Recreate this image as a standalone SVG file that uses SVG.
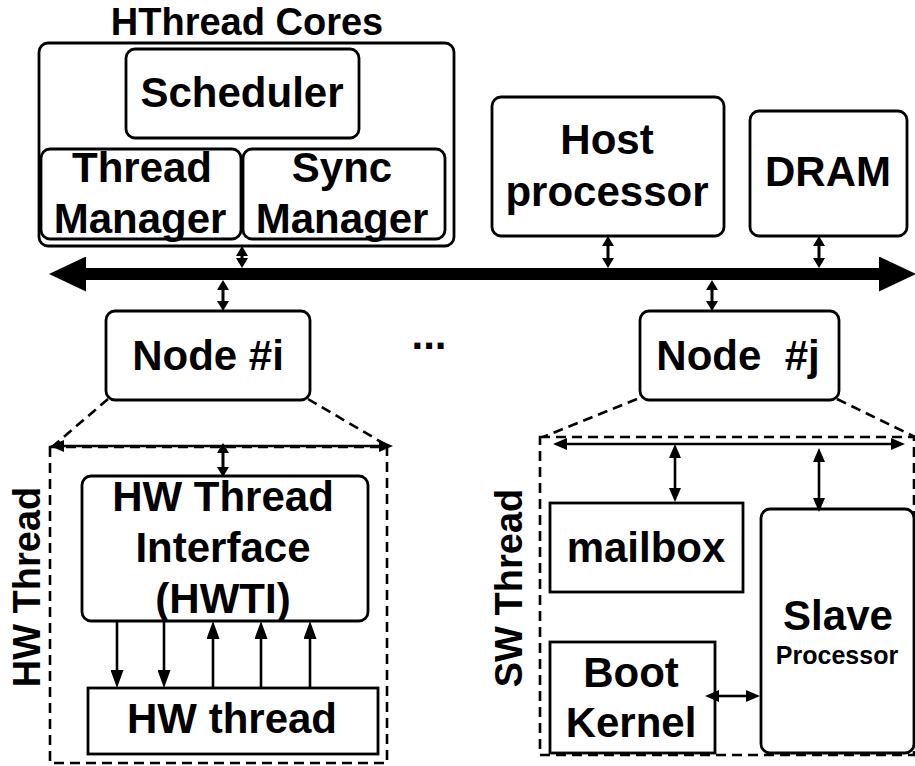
<svg xmlns="http://www.w3.org/2000/svg" width="915" height="766" viewBox="0 0 915 766">
<style>
  .box{fill:#fff;stroke:#000;stroke-width:2.8}
  .dash{fill:none;stroke:#000;stroke-width:2.6;stroke-dasharray:10 6}
  .t{font-family:"Liberation Sans",Arial,sans-serif;font-weight:bold;font-size:42px;fill:#000;text-anchor:middle}
  .sm{stroke:#000;stroke-width:3;fill:none;marker-start:url(#hs);marker-end:url(#hs)}
  .md{stroke:#000;stroke-width:2.6;fill:none;marker-start:url(#hm);marker-end:url(#hm)}
  .one{stroke:#000;stroke-width:2.6;fill:none;marker-end:url(#hl)}
</style>
<defs>
  <marker id="hb" viewBox="0 0 37 35" refX="0" refY="17.5" markerWidth="37" markerHeight="35" orient="auto-start-reverse" markerUnits="userSpaceOnUse"><path d="M0,0 L37,17.5 L0,35 z"/></marker>
  <marker id="hs" viewBox="0 0 10 12" refX="0" refY="6" markerWidth="10" markerHeight="12" orient="auto-start-reverse" markerUnits="userSpaceOnUse"><path d="M0,0 L10,6 L0,12 z"/></marker>
  <marker id="hm" viewBox="0 0 14 12" refX="0" refY="6" markerWidth="14" markerHeight="12" orient="auto-start-reverse" markerUnits="userSpaceOnUse"><path d="M0,0 L14,6 L0,12 z"/></marker>
  <marker id="hl" viewBox="0 0 18 13" refX="0" refY="6.5" markerWidth="18" markerHeight="13" orient="auto" markerUnits="userSpaceOnUse"><path d="M0,0 L18,6.5 L0,13 z"/></marker>
</defs>

<g id="hthread-cores">
  <text class="t" x="247" y="35" style="font-size:38px">HThread Cores</text>
  <rect class="box" x="39" y="43" width="415" height="203" rx="9"/>
</g>
<g id="scheduler">
  <rect class="box" x="126" y="49" width="233" height="89" rx="9"/>
  <text class="t" x="242" y="107">Scheduler</text>
</g>
<g id="thread-manager">
  <rect class="box" x="41" y="149" width="200" height="90" rx="9"/>
  <text class="t" x="142" y="182">Thread</text>
  <text class="t" x="140" y="233">Manager</text>
</g>
<g id="sync-manager">
  <rect class="box" x="243" y="149" width="202" height="90" rx="9"/>
  <text class="t" x="342" y="182">Sync</text>
  <text class="t" x="342" y="233">Manager</text>
</g>
<g id="host">
  <rect class="box" x="492" y="97" width="232" height="139" rx="9"/>
  <text class="t" x="607" y="154">Host</text>
  <text class="t" x="607" y="206">processor</text>
</g>
<g id="dram">
  <rect class="box" x="750" y="111" width="157" height="125" rx="9"/>
  <text class="t" x="828" y="186">DRAM</text>
</g>
<g id="node-i">
  <rect class="box" x="106" y="311" width="204" height="89" rx="9"/>
  <text class="t" x="208" y="370">Node #i</text>
</g>
<g id="ellipsis">
  <text class="t" x="429" y="349">...</text>
</g>
<g id="node-j">
  <rect class="box" x="640" y="311" width="199" height="89" rx="9"/>
  <text class="t" x="738" y="370" xml:space="preserve" style="white-space:pre">Node  #j</text>
</g>

<g id="hw-thread-group">
  <path class="dash" d="M108,399 L52,447 M308,399 L388,446"/>
  <rect class="dash" x="50" y="447" width="337" height="316"/>
  <text class="t" transform="translate(40,587) rotate(-90)" x="0" y="0" style="font-size:38px">HW Thread</text>
</g>
<g id="hwti">
  <rect class="box" x="82" y="476" width="286" height="145" rx="9"/>
  <text class="t" x="223" y="511">HW Thread</text>
  <text class="t" x="223" y="562">Interface</text>
  <text class="t" x="223" y="613">(HWTI)</text>
</g>
<g id="hw-thread">
  <rect class="box" x="88" y="688" width="290" height="66"/>
  <text class="t" x="232" y="733">HW thread</text>
</g>

<g id="sw-thread-group">
  <path class="dash" d="M637,399 L543,437 M837,399 L915,437"/>
  <rect class="dash" x="540" y="437" width="374" height="318"/>
  <text class="t" transform="translate(522,588) rotate(-90)" x="0" y="0" style="font-size:38px">SW Thread</text>
</g>
<g id="mailbox">
  <rect class="box" x="550" y="503" width="193" height="89"/>
  <text class="t" x="646" y="562">mailbox</text>
</g>
<g id="slave">
  <rect class="box" x="761" y="509" width="153" height="244" rx="9"/>
  <text class="t" x="838" y="630">Slave</text>
  <text class="t" x="837" y="664" style="font-size:25px">Processor</text>
</g>
<g id="boot-kernel">
  <rect class="box" x="550" y="642" width="165" height="111"/>
  <text class="t" x="631" y="687">Boot</text>
  <text class="t" x="631" y="737">Kernel</text>
</g>

<g id="connectors">
  <line x1="86" y1="274" x2="879" y2="274" stroke="#000" stroke-width="12" marker-start="url(#hb)" marker-end="url(#hb)"/>
  <line class="sm" x1="242" y1="256" x2="242" y2="258"/>
  <line class="sm" x1="223" y1="290" x2="223" y2="301"/>
  <line class="sm" x1="608" y1="246" x2="608" y2="258"/>
  <line class="sm" x1="819" y1="246" x2="819" y2="258"/>
  <line class="sm" x1="712" y1="290" x2="712" y2="301"/>
  <line class="md" x1="64" y1="446" x2="379" y2="446"/>
  <line class="sm" x1="223" y1="453" x2="223" y2="467"/>
  <line class="one" x1="117" y1="621" x2="117" y2="670"/>
  <line class="one" x1="164" y1="621" x2="164" y2="670"/>
  <line class="one" x1="213" y1="688" x2="213" y2="639"/>
  <line class="one" x1="261" y1="688" x2="261" y2="639"/>
  <line class="one" x1="310" y1="688" x2="310" y2="639"/>
  <line class="md" x1="567" y1="444" x2="891" y2="444"/>
  <line class="md" x1="675" y1="458" x2="675" y2="488"/>
  <line class="md" x1="819" y1="462" x2="819" y2="498"/>
  <line class="md" x1="719" y1="696" x2="746" y2="696"/>
</g>
</svg>
